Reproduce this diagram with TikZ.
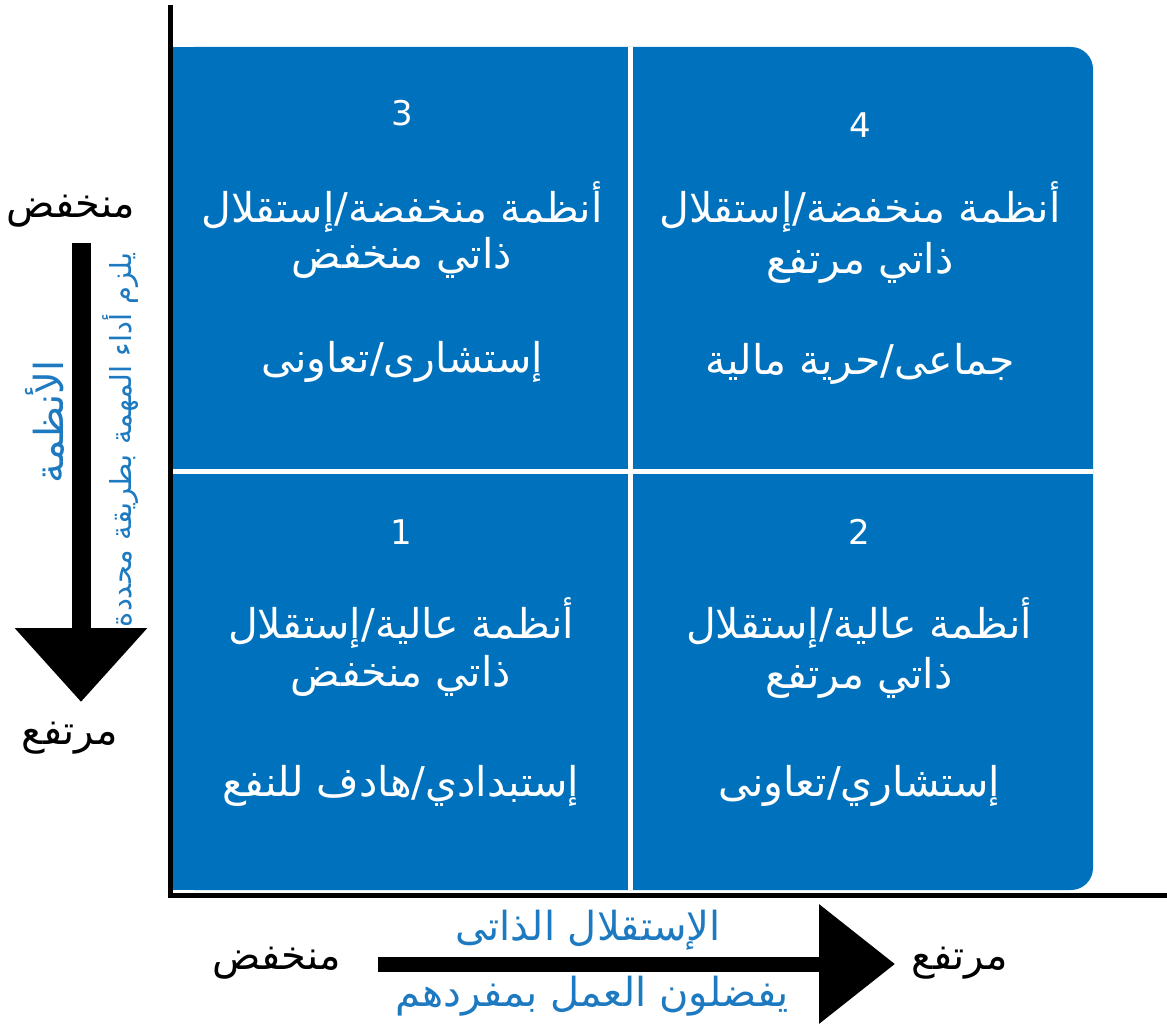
\documentclass[tikz,border=0pt]{standalone}
\usepackage{fontspec}
\setmainfont{DejaVu Sans}
\newfontfamily\arfont[Script=Arabic]{DejaVu Sans}
\TeXXeTstate=1
\usetikzlibrary{arrows.meta}
\definecolor{quadblue}{RGB}{0,113,188}
\definecolor{labelblue}{RGB}{30,122,192}
\newcommand{\ar}[1]{\arfont\beginR #1\endR}
\tikzset{
  qline/.style={text=white, inner sep=0pt, font=\arfont\fontsize{41}{48}\selectfont},
  qnum/.style={text=white, inner sep=0pt, font=\fontsize{34}{40}\selectfont},
  axword/.style={text=black, inner sep=0pt, font=\arfont\fontsize{40}{48}\selectfont},
  axtitle/.style={text=labelblue, inner sep=0pt, font=\arfont\fontsize{40}{48}\selectfont},
  axnote/.style={text=labelblue, inner sep=0pt, font=\arfont\fontsize{29}{34}\selectfont},
  divider/.style={white, line width=5pt},
  axisline/.style={black, line width=5pt},
  blockarrow/.style={black, line width=#1}
}
\begin{document}
\begin{tikzpicture}[x=1pt,y=-1pt]
\useasboundingbox (0,0) rectangle (1167,1025);
\fill[white] (0,0) rectangle (1167,1025);

% blue field, rounded on the right side only
\fill[quadblue, rounded corners=22pt] (172,47) rectangle (1093,890);
\fill[quadblue] (172,47) rectangle (600,890);

% quadrant dividers
\draw[divider] (630,47) -- (630,890);
\draw[divider] (172,471) -- (1093,471);

% axes
\draw[axisline] (170,5) -- (170,897);
\draw[axisline] (168,895) -- (1167,895);

% quadrant 3 (top left)
\node[qnum]  (q3n) at (402,113) {3};
\node[qline] (q3a) at (402,207) {\ar{أنظمة منخفضة/إستقلال}};
\node[qline] (q3b) at (402,258) {\ar{ذاتي منخفض}};
\node[qline] (q3c) at (402,362) {\ar{إستشارى/تعاونى}};

% quadrant 4 (top right)
\node[qnum]  (q4n) at (860,125) {4};
\node[qline] (q4a) at (860,207) {\ar{أنظمة منخفضة/إستقلال}};
\node[qline] (q4b) at (860,263) {\ar{ذاتي مرتفع}};
\node[qline] (q4c) at (860,364) {\ar{جماعى/حرية مالية}};

% quadrant 1 (bottom left)
\node[qnum]  (q1n) at (401,532) {1};
\node[qline] (q1a) at (401,623) {\ar{أنظمة عالية/إستقلال}};
\node[qline] (q1b) at (401,676) {\ar{ذاتي منخفض}};
\node[qline] (q1c) at (401,786) {\ar{إستبدادي/هادف للنفع}};

% quadrant 2 (bottom right)
\node[qnum]  (q2n) at (859,532) {2};
\node[qline] (q2a) at (859,623) {\ar{أنظمة عالية/إستقلال}};
\node[qline] (q2b) at (859,678) {\ar{ذاتي مرتفع}};
\node[qline] (q2c) at (859,786) {\ar{إستشاري/تعاونى}};

% vertical scale: systems
\node[axword] (vlow)  at (71,211) {\ar{منخفض}};
\node[axword] (vhigh) at (70,738) {\ar{مرتفع}};
\coordinate (vstart) at (81,243);
\coordinate (vend)   at (81,702);
\draw[blockarrow=19pt, -{Triangle[length=74pt,width=128pt]}] (vstart) -- (vend);
\node[axtitle, rotate=90] (vtitle) at (45,422) {\ar{الأنظمة}};
\node[axnote, rotate=90]  (vnote)  at (121,440) {\ar{يلزم أداء المهمة بطريقة محددة}};

% horizontal scale: self-autonomy
\node[axword] (hlow)  at (277,963) {\ar{منخفض}};
\node[axword] (hhigh) at (960,963) {\ar{مرتفع}};
\coordinate (hstart) at (378,964);
\coordinate (hend)   at (895,964);
\draw[blockarrow=15pt, -{Triangle[length=76pt,width=116pt]}] (hstart) -- (hend);
\node[axtitle] (htitle) at (588,930) {\ar{الإستقلال الذاتى}};
\node[axtitle] (hnote)  at (592,996) {\ar{يفضلون العمل بمفردهم}};
\end{tikzpicture}
\end{document}
